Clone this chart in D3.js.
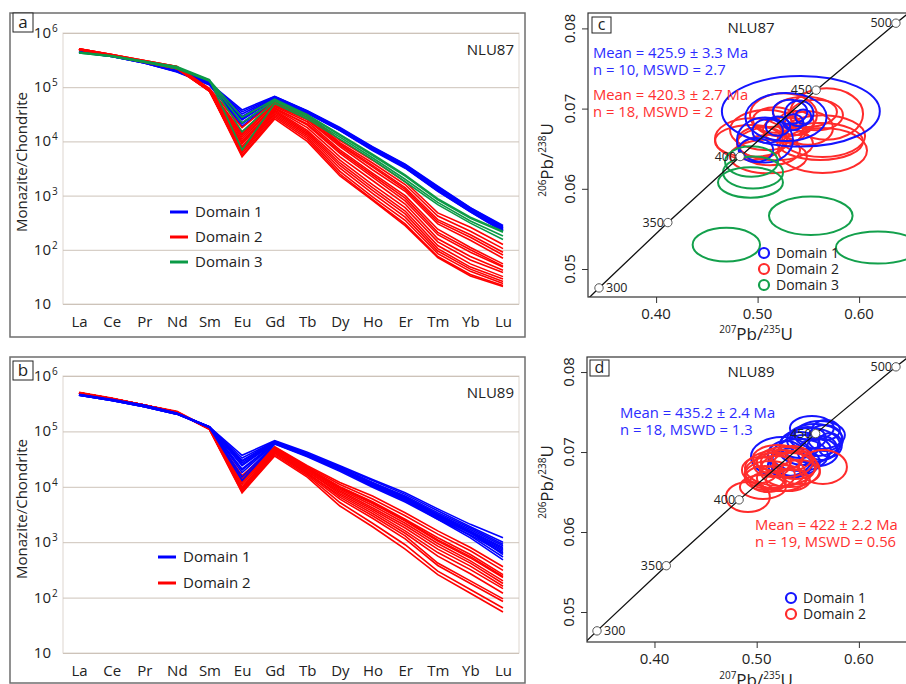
<!DOCTYPE html>
<html>
<head>
<meta charset="utf-8">
<script src="https://d3js.org/d3.v7.min.js"></script>
<style>
  body { margin: 0; background: #fff; }
  svg { display: block; font-family: "Open Sans", sans-serif; }
</style>
</head>
<body>
<svg id="fig" width="906" height="684"></svg>
<script>
// ---------- REE spider data (chondrite normalised) ----------
const elements = ["La", "Ce", "Pr", "Nd", "Sm", "Eu", "Gd", "Tb", "Dy", "Ho", "Er", "Tm", "Yb", "Lu"];
const reeTicks = [10, 1e2, 1e3, 1e4, 1e5, 1e6];
const reeTickExp = ["", "2", "3", "4", "5", "6"];

// NLU87
const nlu87Domain1 = [
  [4.6e5, 3.8e5, 2.9e5, 2.0e5, 1.20e5, 3.8e4, 6.8e4, 3.7e4, 1.80e4, 8.0e3, 3.8e3, 1.50e3, 6.0e2, 2.8e2],
  [4.5e5, 3.8e5, 2.9e5, 2.0e5, 1.18e5, 3.2e4, 6.6e4, 3.6e4, 1.75e4, 7.8e3, 3.7e3, 1.45e3, 5.9e2, 2.7e2],
  [4.4e5, 3.7e5, 2.8e5, 1.95e5, 1.15e5, 2.8e4, 6.4e4, 3.5e4, 1.70e4, 7.5e3, 3.6e3, 1.40e3, 5.7e2, 2.6e2],
  [4.5e5, 3.8e5, 2.9e5, 2.05e5, 1.22e5, 2.5e4, 6.2e4, 3.5e4, 1.70e4, 7.4e3, 3.5e3, 1.35e3, 5.6e2, 2.5e2],
  [4.6e5, 3.9e5, 3.0e5, 2.1e5, 1.20e5, 2.2e4, 6.0e4, 3.4e4, 1.65e4, 7.2e3, 3.4e3, 1.30e3, 5.4e2, 2.4e2],
  [4.4e5, 3.7e5, 2.8e5, 1.9e5, 1.10e5, 1.9e4, 5.8e4, 3.3e4, 1.60e4, 7.0e3, 3.3e3, 1.25e3, 5.2e2, 2.3e2],
  [4.5e5, 3.8e5, 2.9e5, 2.0e5, 1.15e5, 3.5e4, 6.7e4, 3.6e4, 1.72e4, 7.6e3, 3.6e3, 1.38e3, 5.6e2, 2.5e2],
  [4.5e5, 3.8e5, 2.9e5, 2.0e5, 1.20e5, 2.9e4, 6.5e4, 3.55e4, 1.68e4, 7.3e3, 3.45e3, 1.32e3, 5.3e2, 2.35e2],
  [4.7e5, 3.9e5, 3.0e5, 2.1e5, 1.25e5, 2.6e4, 6.3e4, 3.4e4, 1.62e4, 7.1e3, 3.3e3, 1.22e3, 5.0e2, 2.2e2],
  [4.4e5, 3.7e5, 2.8e5, 1.95e5, 1.12e5, 2.1e4, 5.9e4, 3.3e4, 1.58e4, 6.8e3, 3.2e3, 1.20e3, 5.0e2, 2.2e2]
];
const nlu87Domain2 = [
  [5.1e5, 4.0e5, 3.1e5, 2.4e5, 9.5e4, 1.8e4, 5.5e4, 3.1e4, 1.05e4, 4.5e3, 1.8e3, 4.8e2, 2.6e2, 1.25e2],
  [5.0e5, 3.9e5, 3.0e5, 2.3e5, 9.0e4, 1.5e4, 5.2e4, 3.0e4, 9.5e3, 4.0e3, 1.6e3, 4.2e2, 2.2e2, 1.05e2],
  [5.0e5, 3.9e5, 3.0e5, 2.3e5, 9.0e4, 1.3e4, 5.0e4, 2.8e4, 9.0e3, 3.6e3, 1.4e3, 3.6e2, 1.9e2, 9.0e1],
  [4.9e5, 3.9e5, 3.0e5, 2.3e5, 8.8e4, 1.2e4, 4.6e4, 2.5e4, 8.0e3, 3.0e3, 1.2e3, 3.0e2, 1.5e2, 7.0e1],
  [5.1e5, 4.0e5, 3.1e5, 2.4e5, 9.2e4, 1.1e4, 4.4e4, 2.3e4, 7.0e3, 2.6e3, 1.0e3, 2.4e2, 1.1e2, 5.5e1],
  [5.0e5, 3.9e5, 3.0e5, 2.3e5, 8.6e4, 1.0e4, 4.2e4, 2.0e4, 6.0e3, 2.2e3, 8.0e2, 1.9e2, 9.0e1, 4.8e1],
  [5.0e5, 3.9e5, 3.0e5, 2.2e5, 8.5e4, 9.0e3, 4.0e4, 1.8e4, 5.2e3, 1.9e3, 7.0e2, 1.6e2, 7.5e1, 4.2e1],
  [4.9e5, 3.8e5, 2.9e5, 2.2e5, 8.5e4, 8.0e3, 3.8e4, 1.6e4, 4.5e3, 1.6e3, 6.0e2, 1.4e2, 6.5e1, 3.8e1],
  [5.1e5, 4.0e5, 3.1e5, 2.4e5, 9.0e4, 7.5e3, 3.6e4, 1.5e4, 4.0e3, 1.4e3, 5.2e2, 1.2e2, 5.5e1, 3.2e1],
  [5.0e5, 3.9e5, 3.0e5, 2.3e5, 8.8e4, 7.0e3, 3.4e4, 1.4e4, 3.6e3, 1.25e3, 4.6e2, 1.05e2, 4.8e1, 2.9e1],
  [5.0e5, 3.9e5, 3.0e5, 2.3e5, 8.6e4, 6.5e3, 3.2e4, 1.3e4, 3.2e3, 1.1e3, 4.0e2, 9.5e1, 4.4e1, 2.6e1],
  [4.9e5, 3.8e5, 2.9e5, 2.2e5, 8.4e4, 6.0e3, 3.0e4, 1.2e4, 2.8e3, 9.5e2, 3.5e2, 8.5e1, 4.0e1, 2.4e1],
  [5.0e5, 3.9e5, 3.0e5, 2.3e5, 8.5e4, 5.5e3, 2.8e4, 1.1e4, 2.5e3, 8.5e2, 3.0e2, 7.5e1, 3.5e1, 2.2e1],
  [5.0e5, 3.9e5, 3.0e5, 2.3e5, 8.7e4, 5.2e3, 2.6e4, 1.0e4, 2.3e3, 8.2e2, 2.8e2, 7.2e1, 3.3e1, 2.1e1],
  [5.1e5, 4.0e5, 3.0e5, 2.3e5, 8.8e4, 1.4e4, 4.8e4, 2.6e4, 8.5e3, 3.4e3, 1.3e3, 3.3e2, 1.7e2, 8.0e1],
  [5.0e5, 3.9e5, 3.0e5, 2.3e5, 8.9e4, 9.5e3, 4.1e4, 2.1e4, 6.5e3, 2.4e3, 9.0e2, 2.1e2, 1.0e2, 5.0e1]
];
const nlu87Domain3 = [
  [4.4e5, 3.8e5, 3.0e5, 2.3e5, 1.35e5, 2.8e4, 6.0e4, 3.1e4, 1.35e4, 5.8e3, 2.4e3, 8.8e2, 4.0e2, 2.2e2],
  [4.3e5, 3.7e5, 2.9e5, 2.2e5, 1.30e5, 1.5e4, 5.5e4, 2.8e4, 1.20e4, 5.0e3, 2.0e3, 7.5e2, 3.4e2, 1.8e2],
  [4.4e5, 3.8e5, 3.0e5, 2.4e5, 1.38e5, 7.0e3, 5.0e4, 2.6e4, 1.10e4, 4.6e3, 1.8e3, 6.8e2, 3.1e2, 1.55e2],
  [4.3e5, 3.7e5, 2.9e5, 2.3e5, 1.30e5, 2.2e4, 5.8e4, 3.0e4, 1.30e4, 5.5e3, 2.3e3, 8.4e2, 3.8e2, 2.1e2]
];

// NLU89
const nlu89Domain1 = [
  [4.6e5, 3.7e5, 2.9e5, 2.1e5, 1.20e5, 3.7e4, 6.8e4, 4.2e4, 2.4e4, 1.35e4, 7.8e3, 4.0e3, 2.1e3, 1.2e3],
  [4.6e5, 3.7e5, 2.9e5, 2.1e5, 1.20e5, 3.3e4, 6.6e4, 4.0e4, 2.3e4, 1.30e4, 7.3e3, 3.7e3, 1.9e3, 1.0e3],
  [4.5e5, 3.6e5, 2.8e5, 2.05e5, 1.18e5, 3.0e4, 6.5e4, 3.9e4, 2.2e4, 1.20e4, 6.8e3, 3.4e3, 1.8e3, 9.2e2],
  [4.6e5, 3.7e5, 2.9e5, 2.1e5, 1.20e5, 2.7e4, 6.4e4, 3.8e4, 2.15e4, 1.15e4, 6.5e3, 3.2e3, 1.7e3, 8.6e2],
  [4.7e5, 3.8e5, 3.0e5, 2.15e5, 1.22e5, 2.4e4, 6.3e4, 3.8e4, 2.1e4, 1.12e4, 6.2e3, 3.1e3, 1.6e3, 8.0e2],
  [4.5e5, 3.6e5, 2.8e5, 2.05e5, 1.18e5, 2.1e4, 6.2e4, 3.7e4, 2.05e4, 1.10e4, 6.0e3, 3.0e3, 1.55e3, 7.6e2],
  [4.6e5, 3.7e5, 2.9e5, 2.1e5, 1.20e5, 1.8e4, 6.1e4, 3.6e4, 2.0e4, 1.05e4, 5.8e3, 2.9e3, 1.5e3, 7.2e2],
  [4.6e5, 3.7e5, 2.9e5, 2.1e5, 1.20e5, 1.5e4, 6.0e4, 3.6e4, 2.0e4, 1.02e4, 5.6e3, 2.8e3, 1.45e3, 6.8e2],
  [4.5e5, 3.6e5, 2.8e5, 2.05e5, 1.17e5, 1.3e4, 5.9e4, 3.5e4, 1.9e4, 9.8e3, 5.3e3, 2.6e3, 1.35e3, 6.4e2],
  [4.6e5, 3.7e5, 2.9e5, 2.1e5, 1.20e5, 2.9e4, 6.6e4, 3.9e4, 2.2e4, 1.18e4, 6.4e3, 3.1e3, 1.5e3, 6.0e2],
  [4.6e5, 3.7e5, 2.9e5, 2.1e5, 1.20e5, 2.5e4, 6.4e4, 3.75e4, 2.1e4, 1.10e4, 5.9e3, 2.8e3, 1.3e3, 5.4e2],
  [4.5e5, 3.6e5, 2.8e5, 2.05e5, 1.19e5, 2.0e4, 6.2e4, 3.7e4, 2.05e4, 1.08e4, 5.7e3, 2.6e3, 1.2e3, 4.8e2]
];
const nlu89Domain2 = [
  [5.0e5, 3.9e5, 3.0e5, 2.25e5, 1.12e5, 1.6e4, 5.3e4, 2.4e4, 1.2e4, 6.8e3, 3.4e3, 1.6e3, 8.0e2, 3.6e2],
  [5.0e5, 3.9e5, 3.0e5, 2.25e5, 1.12e5, 1.5e4, 5.2e4, 2.3e4, 1.1e4, 6.0e3, 3.0e3, 1.4e3, 7.0e2, 3.1e2],
  [5.0e5, 3.9e5, 3.0e5, 2.2e5, 1.10e5, 1.4e4, 5.0e4, 2.2e4, 1.0e4, 5.4e3, 2.6e3, 1.2e3, 6.0e2, 2.6e2],
  [5.1e5, 4.0e5, 3.0e5, 2.3e5, 1.13e5, 1.3e4, 4.9e4, 2.1e4, 9.5e3, 5.0e3, 2.4e3, 1.05e3, 5.2e2, 2.3e2],
  [5.0e5, 3.9e5, 3.0e5, 2.25e5, 1.12e5, 1.2e4, 4.8e4, 2.1e4, 9.0e3, 4.6e3, 2.2e3, 9.5e2, 4.6e2, 2.0e2],
  [5.0e5, 3.9e5, 3.0e5, 2.25e5, 1.10e5, 1.1e4, 4.6e4, 2.0e4, 8.5e3, 4.2e3, 2.0e3, 8.5e2, 4.2e2, 1.8e2],
  [4.9e5, 3.8e5, 2.9e5, 2.2e5, 1.10e5, 1.0e4, 4.5e4, 1.9e4, 8.0e3, 3.9e3, 1.8e3, 7.5e2, 3.7e2, 1.6e2],
  [5.0e5, 3.9e5, 3.0e5, 2.25e5, 1.12e5, 9.5e3, 4.4e4, 1.9e4, 7.5e3, 3.6e3, 1.6e3, 6.5e2, 3.2e2, 1.45e2],
  [5.0e5, 3.9e5, 3.0e5, 2.25e5, 1.10e5, 9.0e3, 4.2e4, 1.8e4, 6.5e3, 3.0e3, 1.3e3, 4.2e2, 2.0e2, 9.5e1],
  [5.0e5, 3.9e5, 3.0e5, 2.2e5, 1.10e5, 8.5e3, 4.0e4, 1.7e4, 6.0e3, 2.7e3, 1.15e3, 3.8e2, 1.8e2, 8.5e1],
  [5.0e5, 3.9e5, 3.0e5, 2.25e5, 1.10e5, 8.0e3, 3.8e4, 1.6e4, 5.2e3, 2.2e3, 9.0e2, 3.0e2, 1.4e2, 6.5e1],
  [4.9e5, 3.8e5, 2.9e5, 2.2e5, 1.08e5, 7.8e3, 3.6e4, 1.5e4, 4.5e3, 1.9e3, 7.5e2, 2.6e2, 1.2e2, 5.5e1],
  [5.0e5, 3.9e5, 3.0e5, 2.25e5, 1.10e5, 1.25e4, 4.7e4, 2.2e4, 9.8e3, 5.2e3, 2.5e3, 1.1e3, 5.5e2, 2.4e2],
  [5.0e5, 3.9e5, 3.0e5, 2.25e5, 1.10e5, 8.8e3, 4.1e4, 1.75e4, 7.0e3, 3.3e3, 1.45e3, 5.6e2, 2.7e2, 1.2e2]
];

// ---------- Concordia data ----------
// ellipses: [207Pb/235U centre, 206Pb/238U centre, x half-axis, y half-axis]
const concAges = [300, 350, 400, 450, 500];
const concPb207 = [0.34375, 0.41157, 0.48280, 0.55767, 0.63627];
const concPb206 = [0.04764, 0.05579, 0.06402, 0.07230, 0.08065];
const concEnds = [[0.3306, 0.0460], [0.6525, 0.0823]];

const c87Domain1 = [
  [0.5426, 0.06966, 0.0778, 0.0044], [0.5280, 0.06895, 0.0400, 0.0030],
  [0.5073, 0.06608, 0.0276, 0.0028], [0.5320, 0.06960, 0.0170, 0.0015],
  [0.5410, 0.06940, 0.0140, 0.0016], [0.5200, 0.06780, 0.0120, 0.0012],
  [0.5350, 0.06830, 0.0100, 0.0010], [0.5100, 0.06720, 0.0150, 0.0015],
  [0.5450, 0.06900, 0.0080, 0.0009], [0.4984, 0.06484, 0.0170, 0.0015]
];
const c87Domain2 = [
  [0.5640, 0.06478, 0.0438, 0.0028], [0.5640, 0.06658, 0.0419, 0.0026],
  [0.4935, 0.06596, 0.0355, 0.0020], [0.5107, 0.06403, 0.0379, 0.0021],
  [0.5172, 0.06565, 0.0374, 0.0021], [0.5679, 0.06933, 0.0360, 0.0032],
  [0.5255, 0.06920, 0.0330, 0.0027], [0.4935, 0.06621, 0.0355, 0.0026],
  [0.5088, 0.06733, 0.0360, 0.0025], [0.5467, 0.06958, 0.0315, 0.0019],
  [0.5580, 0.06920, 0.0261, 0.0019], [0.5172, 0.06858, 0.0217, 0.0016],
  [0.5270, 0.06733, 0.0217, 0.0016], [0.5615, 0.06590, 0.0424, 0.0023],
  [0.5024, 0.06584, 0.0227, 0.0019], [0.5378, 0.06820, 0.0177, 0.0015],
  [0.5497, 0.06758, 0.0246, 0.0021], [0.5122, 0.06484, 0.0296, 0.0019]
];
const c87Domain3 = [
  [0.4930, 0.06079, 0.0320, 0.0019], [0.4955, 0.06203, 0.0296, 0.0020],
  [0.4940, 0.06340, 0.0261, 0.0019], [0.5524, 0.05663, 0.0412, 0.0024],
  [0.4692, 0.05303, 0.0332, 0.0021], [0.6186, 0.05268, 0.0414, 0.0020]
];
const c89Domain1 = [
  [0.5247, 0.06938, 0.0303, 0.0025], [0.5570, 0.07150, 0.0274, 0.0020],
  [0.5618, 0.07213, 0.0245, 0.00175], [0.5521, 0.07088, 0.0293, 0.00213],
  [0.5667, 0.07175, 0.0166, 0.00163], [0.5472, 0.07025, 0.0254, 0.00188],
  [0.5423, 0.06963, 0.0274, 0.0020], [0.5374, 0.06875, 0.0245, 0.00175],
  [0.5716, 0.07088, 0.0117, 0.0015], [0.5599, 0.07000, 0.0196, 0.00175],
  [0.5325, 0.06838, 0.0215, 0.00163], [0.5540, 0.07300, 0.0215, 0.0015],
  [0.5208, 0.06775, 0.0059, 0.00063], [0.5501, 0.07175, 0.0176, 0.00138],
  [0.5638, 0.07050, 0.0147, 0.0015], [0.5423, 0.07088, 0.0196, 0.00163],
  [0.5286, 0.06963, 0.0176, 0.00175], [0.5677, 0.07275, 0.0137, 0.00125]
];
const c89Domain2 = [
  [0.4914, 0.06438, 0.0215, 0.00188], [0.5648, 0.06813, 0.0235, 0.00213],
  [0.5061, 0.06563, 0.0225, 0.0015], [0.5227, 0.06800, 0.0342, 0.00225],
  [0.5178, 0.06750, 0.0293, 0.0020], [0.5276, 0.06875, 0.0274, 0.00188],
  [0.5129, 0.06713, 0.0245, 0.00175], [0.5325, 0.06775, 0.0293, 0.00213],
  [0.5208, 0.06925, 0.0245, 0.00163], [0.5374, 0.06838, 0.0215, 0.00175],
  [0.5080, 0.06675, 0.0196, 0.0015], [0.5149, 0.06838, 0.0176, 0.0015],
  [0.5247, 0.06675, 0.0245, 0.00163], [0.5423, 0.06750, 0.0196, 0.0015],
  [0.5032, 0.06775, 0.0176, 0.00163], [0.5306, 0.06650, 0.0215, 0.00138],
  [0.5188, 0.06875, 0.0147, 0.00125], [0.5110, 0.06625, 0.0176, 0.00125],
  [0.5345, 0.06925, 0.0196, 0.0015]
];

const BLUE = "#0000ff", RED = "#ff0000", GREEN = "#0b9a46";
const svg = d3.select("#fig");

// ---------- REE spider panels ----------
function spider(cfg) {
  const x = d3.scalePoint().domain(elements).range([79, 503]);
  const y = d3.scaleLog().domain([10, 1e6]).range([cfg.bottom, cfg.top]);
  const g = svg.append("g");

  g.append("rect").attr("x", 10).attr("y", cfg.frameTop).attr("width", 515).attr("height", cfg.frameBottom - cfg.frameTop)
    .attr("fill", "none").attr("stroke", "#6e6e6e").attr("stroke-width", 1.5);

  g.append("rect").attr("x", 63).attr("y", cfg.top).attr("width", 456).attr("height", cfg.bottom - cfg.top)
    .attr("fill", "none").attr("stroke", "#ddd6cf");

  const grid = d3.axisLeft(y).tickValues(reeTicks).tickSize(-456).tickFormat("");
  g.append("g").attr("transform", "translate(63,0)").call(grid)
    .call(a => a.select(".domain").remove())
    .selectAll("line").attr("stroke", "#cdc3b9").attr("stroke-width", 1);

  reeTicks.forEach((t, i) => {
    g.append("text").attr("x", 51).attr("y", y(t) + 5).attr("text-anchor", "end")
      .attr("font-size", 15).attr("fill", "#222").text("10");
    if (reeTickExp[i]) {
      g.append("text").attr("x", 52).attr("y", y(t) - 1).attr("font-size", 10).attr("fill", "#222").text(reeTickExp[i]);
    }
  });

  g.append("text").attr("transform", `translate(27,${cfg.titleY}) rotate(-90)`).attr("text-anchor", "middle")
    .attr("font-size", 15).attr("fill", "#222").text("Monazite/Chondrite");

  const xAxis = d3.axisBottom(x).tickSize(0).tickPadding(0);
  g.append("g").attr("transform", `translate(0,${cfg.bottom + 12})`).call(xAxis)
    .call(a => a.select(".domain").remove())
    .selectAll("text").attr("font-size", 15).attr("font-family", "Open Sans").attr("fill", "#222").attr("dy", "0.71em");

  const line = d3.line().x((d, i) => x(elements[i])).y(d => y(d));
  cfg.series.forEach(s => {
    g.append("g").selectAll("path").data(s.data).join("path")
      .attr("d", line).attr("fill", "none").attr("stroke", s.color).attr("stroke-width", 1.6);
  });

  cfg.legend.forEach((l, i) => {
    const ly = cfg.legendY + i * cfg.legendStep;
    g.append("line").attr("x1", cfg.legendX).attr("x2", cfg.legendX + 18).attr("y1", ly).attr("y2", ly)
      .attr("stroke", l.color).attr("stroke-width", 3);
    g.append("text").attr("x", cfg.legendX + 25).attr("y", ly + 5).attr("font-size", 15).attr("fill", "#222").text(l.label);
  });

  g.append("text").attr("x", 514).attr("y", cfg.top + 22).attr("text-anchor", "end")
    .attr("font-size", 15).attr("fill", "#222").text(cfg.sample);

  g.append("rect").attr("x", 13).attr("y", cfg.boxY).attr("width", 20).attr("height", 19)
    .attr("fill", "#fff").attr("stroke", "#222");
  g.append("text").attr("x", 23).attr("y", cfg.boxY + 15).attr("text-anchor", "middle")
    .attr("font-size", 17).attr("fill", "#222").text(cfg.letter);
}

spider({
  frameTop: 13, frameBottom: 337, top: 33, bottom: 304, titleY: 162, boxY: 13,
  series: [{ data: nlu87Domain1, color: BLUE }, { data: nlu87Domain2, color: RED }, { data: nlu87Domain3, color: GREEN }],
  legend: [{ label: "Domain 1", color: BLUE }, { label: "Domain 2", color: RED }, { label: "Domain 3", color: GREEN }],
  legendX: 170, legendY: 212, legendStep: 25, sample: "NLU87", letter: "a"
});
spider({
  frameTop: 357, frameBottom: 683, top: 376, bottom: 653, titleY: 509, boxY: 361,
  series: [{ data: nlu89Domain2, color: RED }, { data: nlu89Domain1, color: BLUE }],
  legend: [{ label: "Domain 1", color: BLUE }, { label: "Domain 2", color: RED }],
  legendX: 158, legendY: 557, legendStep: 26, sample: "NLU89", letter: "b"
});

// ---------- Concordia panels ----------
// isotope label: [text, raised?] pieces, superscripts shifted up with dy
function isotopeTitle(t, parts, big, small) {
  let raised = false;
  parts.forEach(p => {
    const up = p[1] === 1;
    const dy = up && !raised ? -7 : (!up && raised ? 7 : 0);
    t.append("tspan").attr("font-size", up ? small : big).attr("dy", dy).text(p[0]);
    raised = up;
  });
}

function concordia(cfg) {
  const x = d3.scaleLinear().domain(cfg.xd).range([cfg.left, 906]);
  const y = d3.scaleLinear().domain(cfg.yd).range([cfg.bottom, cfg.top]);
  const clipId = "clip-" + cfg.id;
  svg.append("clipPath").attr("id", clipId).append("rect")
    .attr("x", cfg.left).attr("y", cfg.top).attr("width", 906 - cfg.left + 10).attr("height", cfg.bottom - cfg.top);
  const g = svg.append("g").attr("clip-path", `url(#${clipId})`);

  cfg.sets.forEach(s => {
    g.append("g").selectAll("ellipse").data(s.data).join("ellipse")
      .attr("cx", d => x(d[0])).attr("cy", d => y(d[1]))
      .attr("rx", d => x(d[0] + d[2]) - x(d[0])).attr("ry", d => y(d[1]) - y(d[1] + d[3]))
      .attr("fill", "none").attr("stroke", s.color).attr("stroke-width", 2);
  });

  const pts = concAges.map((a, i) => [concPb207[i], concPb206[i], a]);
  const linePts = [concEnds[0]].concat(pts).concat([concEnds[1]]);
  g.append("path").datum(linePts).attr("d", d3.line().x(d => x(d[0])).y(d => y(d[1])))
    .attr("fill", "none").attr("stroke", "#111").attr("stroke-width", 1.3);
  pts.forEach(p => {
    const px = x(p[0]), py = y(p[1]);
    const right = p[2] === 300;
    g.append("text").attr("x", right ? px + 7 : px - 4).attr("y", py + 4)
      .attr("text-anchor", right ? "start" : "end").attr("font-size", 12.5).attr("fill", "#222").text(p[2]);
    g.append("circle").attr("cx", px).attr("cy", py).attr("r", 4.2)
      .attr("fill", "#fff").attr("stroke", "#555").attr("stroke-width", 1);
  });

  svg.append("rect").attr("x", cfg.left).attr("y", cfg.top).attr("width", 400).attr("height", cfg.bottom - cfg.top)
    .attr("fill", "none").attr("stroke", "#333").attr("stroke-width", 1.2);

  const yTicks = [0.05, 0.06, 0.07, 0.08], xTicks = [0.40, 0.50, 0.60];
  svg.append("g").attr("transform", `translate(${cfg.left},0)`)
    .call(d3.axisLeft(y).tickValues(yTicks).tickSize(6).tickFormat(""))
    .call(a => a.select(".domain").remove()).selectAll("line").attr("stroke", "#333");
  svg.append("g").attr("transform", `translate(0,${cfg.bottom})`)
    .call(d3.axisBottom(x).tickValues(xTicks).tickSize(6).tickFormat(""))
    .call(a => a.select(".domain").remove()).selectAll("line").attr("stroke", "#333");
  yTicks.forEach(t => {
    svg.append("text").attr("transform", `translate(${cfg.left - 13},${y(t)}) rotate(-90)`)
      .attr("text-anchor", "middle").attr("font-size", 15).attr("fill", "#222").text(d3.format(".2f")(t));
  });
  xTicks.forEach(t => {
    svg.append("text").attr("x", x(t)).attr("y", cfg.bottom + 22).attr("text-anchor", "middle")
      .attr("font-size", 15).attr("fill", "#222").text(d3.format(".2f")(t));
  });

  const xt = svg.append("text").attr("x", 756).attr("y", cfg.xTitleY).attr("text-anchor", "middle").attr("fill", "#222");
  isotopeTitle(xt, [["207", 1], ["Pb/", 0], ["235", 1], ["U", 0]], 17, 10);
  const yt = svg.append("text").attr("transform", `translate(553,${cfg.yTitleY}) rotate(-90)`).attr("text-anchor", "middle").attr("fill", "#222");
  isotopeTitle(yt, [["206", 1], ["Pb/", 0], ["238", 1], ["U", 0]], 17, 10);

  svg.append("rect").attr("x", cfg.box[0]).attr("y", cfg.box[1]).attr("width", 19).attr("height", 16)
    .attr("fill", "#fff").attr("stroke", "#222");
  svg.append("text").attr("x", cfg.box[0] + 9.5).attr("y", cfg.box[1] + 13).attr("text-anchor", "middle")
    .attr("font-size", 16).attr("fill", "#222").text(cfg.letter);
  svg.append("text").attr("x", 751).attr("y", cfg.top + 20).attr("text-anchor", "middle")
    .attr("font-size", 15).attr("fill", "#222").text(cfg.sample);

  cfg.notes.forEach(n => {
    svg.append("text").attr("x", n.x).attr("y", n.y).attr("font-size", 14.8).attr("fill", n.color).text(n.text);
  });

  cfg.legend.forEach((l, i) => {
    const ly = cfg.legendY + i * 16;
    svg.append("circle").attr("cx", cfg.legendX).attr("cy", ly).attr("r", 5)
      .attr("fill", "none").attr("stroke", l.color).attr("stroke-width", 2.2);
    svg.append("text").attr("x", cfg.legendX + 12).attr("y", ly + 5).attr("font-size", 14).attr("fill", "#222").text(l.label);
  });
}

concordia({
  id: "c", left: 588, top: 13, bottom: 297, xd: [0.33291, 0.64621], yd: [0.04651, 0.08192],
  sets: [{ data: c87Domain2, color: "#ff2b2b" }, { data: c87Domain1, color: "#1414ff" }, { data: c87Domain3, color: "#13a04c" }],
  xTitleY: 340, yTitleY: 160, box: [592, 17], letter: "c", sample: "NLU87",
  notes: [
    { x: 593, y: 58, text: "Mean = 425.9 \u00b1 3.3 Ma", color: "#2b2bff" },
    { x: 593, y: 75, text: "n = 10, MSWD = 2.7", color: "#2b2bff" },
    { x: 593, y: 100, text: "Mean = 420.3 \u00b1 2.7 Ma", color: "#ff3030" },
    { x: 593, y: 117, text: "n = 18, MSWD = 2", color: "#ff3030" }
  ],
  legend: [{ label: "Domain 1", color: "#1414ff" }, { label: "Domain 2", color: "#ff2b2b" }, { label: "Domain 3", color: "#13a04c" }],
  legendX: 764, legendY: 253
});
concordia({
  id: "d", left: 587, top: 357, bottom: 642, xd: [0.33397, 0.64610], yd: [0.04625, 0.08188],
  sets: [{ data: c89Domain1, color: "#1414ff" }, { data: c89Domain2, color: "#ff2b2b" }],
  xTitleY: 686, yTitleY: 482, box: [590, 360], letter: "d", sample: "NLU89",
  notes: [
    { x: 620, y: 418, text: "Mean = 435.2 \u00b1 2.4 Ma", color: "#2b2bff" },
    { x: 620, y: 435, text: "n = 18, MSWD = 1.3", color: "#2b2bff" },
    { x: 755, y: 530, text: "Mean = 422 \u00b1 2.2 Ma", color: "#ff3030" },
    { x: 755, y: 547, text: "n = 19, MSWD = 0.56", color: "#ff3030" }
  ],
  legend: [{ label: "Domain 1", color: "#1414ff" }, { label: "Domain 2", color: "#ff2b2b" }],
  legendX: 791, legendY: 598
});
</script>
</body>
</html>
